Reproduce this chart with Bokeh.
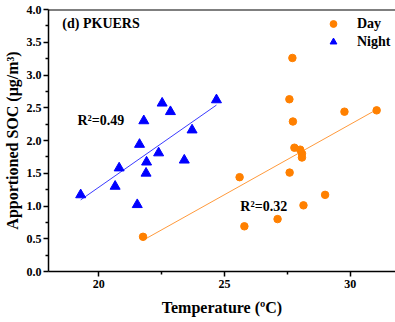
import numpy as np
from bokeh.plotting import figure
from bokeh.models import (Range1d, FixedTicker, Label, Legend, LegendItem, Span)
from bokeh.embed import file_html
from bokeh.resources import INLINE

# ---- data ----
day_temp = [27.70, 27.58, 29.77, 31.05, 27.72, 27.78, 28.01, 28.08, 28.08,
            25.60, 27.59, 29.00, 28.14, 27.11, 25.79, 21.76]
day_soc = [3.26, 2.63, 2.44, 2.46, 2.29, 1.89, 1.86, 1.80, 1.74,
           1.44, 1.51, 1.17, 1.01, 0.80, 0.69, 0.53]
night_temp = [19.28, 20.65, 20.81, 21.53, 21.62, 21.79, 21.90, 21.88, 22.38,
              22.52, 22.85, 23.40, 23.71, 24.68]
night_soc = [1.17, 1.30, 1.58, 1.02, 1.94, 2.30, 1.67, 1.50, 1.81,
             2.57, 2.44, 1.70, 2.16, 2.62]
x_ticks = [20, 25, 30]
x_tick_labels = ["20", "25", "30"]
y_ticks = [0.0, 0.5, 1.0, 1.5, 2.0, 2.5, 3.0, 3.5, 4.0]
y_tick_labels = ["0.0", "0.5", "1.0", "1.5", "2.0", "2.5", "3.0", "3.5", "4.0"]
series_names = ["Day", "Night"]
r2_day = "R\u00b2=0.32"
r2_night = "R\u00b2=0.49"
panel_title = "(d) PKUERS"
x_title = "Temperature (\u00baC)"
y_title = "Apportioned SOC (\u03bcg/m\u00b3)"

DAY_COLOR = "#ff8000"
DAY_LINE = "#ff9a3c"
NIGHT_COLOR = "#0000ff"
NIGHT_LINE = "#3b3bff"
FONT = "Liberation Serif"

p = figure(width=395, height=322, output_backend="svg", toolbar_location=None,
           x_range=Range1d(18, 31.8), y_range=Range1d(0, 4.0),
           min_border_left=48, min_border_right=0, min_border_top=9,
           min_border_bottom=51)
p.outline_line_color = None
p.xgrid.visible = False
p.ygrid.visible = False
p.background_fill_color = "white"
p.border_fill_color = "white"

# fit lines computed from the data
def fit_line(xs, ys):
    k, b = np.polyfit(xs, ys, 1)
    xx = np.array([min(xs), max(xs)])
    return xx, k * xx + b

nx, ny = fit_line(night_temp, night_soc)
dx, dy = fit_line(day_temp, day_soc)
p.line(nx, ny, line_color=NIGHT_LINE, line_width=1)
p.line(dx, dy, line_color=DAY_LINE, line_width=1)

r_night = p.scatter(night_temp, night_soc, marker="triangle", size=10,
                    fill_color=NIGHT_COLOR, line_color=NIGHT_COLOR)
r_day = p.scatter(day_temp, day_soc, marker="circle", size=7.5,
                  fill_color=DAY_COLOR, line_color=DAY_COLOR)

# axes
xminor = [(a + b) / 2 for a, b in zip(x_ticks[:-1], x_ticks[1:])] + [x_ticks[-1] + 2.5]
yminor = [(a + b) / 2 for a, b in zip(y_ticks[:-1], y_ticks[1:])]
p.xaxis.ticker = FixedTicker(ticks=x_ticks, minor_ticks=xminor)
p.yaxis.ticker = FixedTicker(ticks=y_ticks, minor_ticks=yminor)
p.xaxis.major_label_overrides = dict(zip(x_ticks, x_tick_labels))
p.yaxis.major_label_overrides = dict(zip(y_ticks, y_tick_labels))
for ax in (p.xaxis[0], p.yaxis[0]):
    ax.axis_line_width = 1.5
    ax.axis_line_color = "black"
    ax.major_tick_in = 0
    ax.major_tick_out = 5
    ax.minor_tick_in = 0
    ax.minor_tick_out = 3
    ax.major_tick_line_width = 1.5
    ax.minor_tick_line_width = 1.5
    ax.major_label_text_font = FONT
    ax.major_label_text_font_style = "bold"
    ax.major_label_text_font_size = "12px"
    ax.major_label_text_color = "black"
    ax.axis_label_text_font = FONT
    ax.axis_label_text_font_style = "bold"
    ax.axis_label_text_font_size = "16px"
    ax.axis_label_text_color = "black"
    ax.major_label_standoff = 2
    ax.axis_label_standoff = 3
p.xaxis.major_label_standoff = 3
p.xaxis.axis_label_standoff = 8
p.xaxis.axis_label = x_title
p.yaxis.axis_label = y_title

# top frame line
p.add_layout(Span(location=4.0, dimension="width", line_color="black", line_width=2))

# texts
p.add_layout(Label(x=18.55, y=3.79, text=panel_title, text_font=FONT,
                   text_font_style="bold", text_font_size="14px",
                   text_baseline="middle", text_color="black"))
p.add_layout(Label(x=19.15, y=2.30, text=r2_night, text_font=FONT,
                   text_font_style="bold", text_font_size="14px",
                   text_baseline="middle", text_color="black"))
p.add_layout(Label(x=25.63, y=1.0, text=r2_day, text_font=FONT,
                   text_font_style="bold", text_font_size="14px",
                   text_baseline="middle", text_color="black"))

legend = Legend(items=[LegendItem(label=series_names[0], renderers=[r_day]),
                       LegendItem(label=series_names[1], renderers=[r_night])],
                location=(275, 221), padding=0, spacing=1, margin=0,
                glyph_height=17, glyph_width=20, label_height=17,
                label_standoff=14, border_line_alpha=0, background_fill_alpha=0,
                label_text_font=FONT, label_text_font_style="bold",
                label_text_font_size="14px", label_text_color="black")
p.add_layout(legend)

open("out.html", "w").write(file_html(p, INLINE))
